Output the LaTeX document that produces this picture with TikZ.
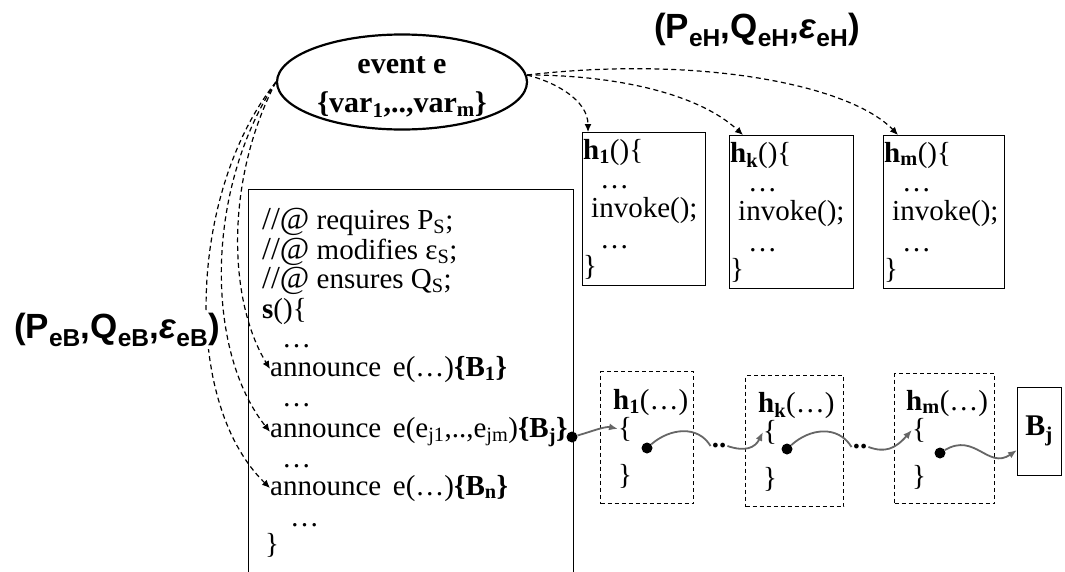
\documentclass[tikz,border=0pt]{standalone}
\usepackage{fontspec}
\setmainfont{Liberation Serif}
\newfontfamily\lblfont{Liberation Sans}
\usetikzlibrary{shapes.geometric,arrows.meta}
\newcommand\sbs[1]{\textsubscript{#1}}
\newcommand\at{{\fontsize{32}{30}\selectfont //@}}
\begin{document}
\begin{tikzpicture}[x=1pt,y=-1pt,
  code/.style={font=\fontsize{29}{30}\selectfont, inner sep=0pt, anchor=base west},
  frame/.style={draw, line width=1.4pt, inner sep=0pt, anchor=north west},
  dframe/.style={draw, line width=1.2pt, dash pattern=on 4pt off 3pt, inner sep=0pt, anchor=north west},
  darr/.style={line width=1.2pt, dash pattern=on 5pt off 3.5pt, -{Latex[length=8pt,width=7pt]}},
  flow/.style={line width=1.8pt, draw=black!60, -{Latex[length=9pt,width=7pt]}},
  wave/.style={line width=1.8pt, draw=black!60},
  dot/.style={circle, fill=black, inner sep=0pt, minimum size=11pt},
  lbl/.style={font=\lblfont\bfseries\fontsize{35}{36}\selectfont, inner sep=2pt, fill=white}]
\clip (0,0) rectangle (1065,571);

% event node
\node[ellipse, draw, line width=2.2pt, minimum width=250pt, minimum height=95pt] (ev) at (402,82) {};
\node[align=center, inner sep=0pt, font=\bfseries\fontsize{30}{39}\selectfont] (evt) at (402,87)
      {event e\\\{var\sbs{1},..,var\sbs{m}\}};

% contract labels
\node[lbl] (lh) at (757,30) {(P\sbs{eH},Q\sbs{eH},\textit{ε}\sbs{eH})};

% handler boxes
\node[frame, minimum width=123pt, minimum height=153pt] (h1) at (582,132) {};
\node[frame, minimum width=124pt, minimum height=153pt] (hk) at (729,135) {};
\node[frame, minimum width=121pt, minimum height=153pt] (hm) at (883,135) {};

\node[code] (h1a) at (583,159) {\textbf{h\sbs{1}}()\{};
\node[code] (h1b) at (600,188) {…};
\node[code] (h1c) at (591,217) {invoke();};
\node[code] (h1d) at (600,248) {…};
\node[code] (h1e) at (583,275) {\}};

\node[code] (hka) at (730,162) {\textbf{h\sbs{k}}()\{};
\node[code] (hkb) at (748,191) {…};
\node[code] (hkc) at (738,220) {invoke();};
\node[code] (hkd) at (748,251) {…};
\node[code] (hke) at (730,278) {\}};

\node[code] (hma) at (884,162) {\textbf{h\sbs{m}}()\{};
\node[code] (hmb) at (902,191) {…};
\node[code] (hmc) at (892,220) {invoke();};
\node[code] (hmd) at (902,251) {…};
\node[code] (hme) at (884,278) {\}};

% method body
\node[frame, minimum width=325pt, minimum height=400pt] (sb) at (248,189) {};
\node[code] (c1) at (262,229) {\at{} requires P\sbs{S};};
\node[code] (c2) at (262,259) {\at{} modifies ε\sbs{S};};
\node[code] (c3) at (262,288) {\at{} ensures Q\sbs{S};};
\node[code] (c4) at (262,318) {\textbf{s}()\{};
\node[code] (c5) at (282,347) {…};
\node[code] (c6) at (270,376) {announce\hspace{0.4em}e(…)\textbf{\{B\sbs{1}\}}};
\node[code] (c7) at (282,406) {…};
\node[code] (c8) at (270,437) {announce\hspace{0.4em}e(e\sbs{j1},..,e\sbs{jm})\textbf{\{B\sbs{j}\}}};
\node[code] (c9) at (282,467) {…};
\node[code] (c10) at (270,495) {announce\hspace{0.4em}e(…)\textbf{\{B\sbs{n}\}}};
\node[code] (c11) at (290,526) {…};
\node[code] (c12) at (265,553) {\}};

% dispatch from event to announcements
\draw[darr] (ev.west) .. controls (225,180) and (228,300) .. (c6.west);
\draw[darr] (ev.west) .. controls (205,190) and (205,350) .. (c8.west);
\draw[darr] (ev.west) .. controls (190,190) and (180,400) .. (c10.west);
\node[lbl] (lb) at (117,330) {(P\sbs{eB},Q\sbs{eB},\textit{ε}\sbs{eB})};

% dispatch from event to handlers
\coordinate (er) at (527,75);
\draw[darr] (er) .. controls (555,82) and (588,100) .. (h1.north west -| 588,132);
\draw[darr] (er) .. controls (620,75) and (700,95) .. (743,135);
\draw[darr] (er) .. controls (700,55) and (850,85) .. (898,135);

% handler chain
\node[dframe, minimum width=93pt, minimum height=132pt] (d1) at (600,371) {};
\node[dframe, minimum width=98pt, minimum height=131pt] (d2) at (745,375) {};
\node[dframe, minimum width=100pt, minimum height=130pt] (d3) at (894,373) {};

\node[code] (d1a) at (613,409) {\textbf{h\sbs{1}}(…)};
\node[code] (d1o) at (618,437) {\{};
\node[code] (d1c) at (618,484) {\}};
\node[code] (d2a) at (758,412) {\textbf{h\sbs{k}}(…)};
\node[code] (d2o) at (763,440) {\{};
\node[code] (d2c) at (763,487) {\}};
\node[code] (d3a) at (906,410) {\textbf{h\sbs{m}}(…)};
\node[code] (d3o) at (912,438) {\{};
\node[code] (d3c) at (912,485) {\}};

\node[frame, minimum width=44pt, minimum height=88pt] (bj) at (1017,387) {};
\node[font=\bfseries\fontsize{30}{32}\selectfont, inner sep=0pt] (bjt) at (1039,431) {B\sbs{j}};

\node[dot] (p0) at (572,437) {};
\node[dot] (p1) at (647,448) {};
\node[dot] (p2) at (787,449) {};
\node[dot] (p3) at (940,453) {};
\node[font=\bfseries\fontsize{29}{30}\selectfont, inner sep=1pt] (e1) at (719,446) {..};
\node[font=\bfseries\fontsize{29}{30}\selectfont, inner sep=1pt] (e2) at (860,447) {..};

\draw[flow] (p0) .. controls (590,432) and (605,426) .. (d1o.west);
\draw[wave] (p1) .. controls (670,428) and (698,425) .. (e1.west);
\draw[flow] (e1.east) .. controls (745,452) and (755,448) .. (d2o.west);
\draw[wave] (p2) .. controls (810,428) and (838,425) .. (e2.west);
\draw[flow] (e2.east) .. controls (885,453) and (895,449) .. (d3o.west);
\draw[flow] (p3) .. controls (975,432) and (988,470) .. (bj.west |- 0,450);
\end{tikzpicture}
\end{document}
